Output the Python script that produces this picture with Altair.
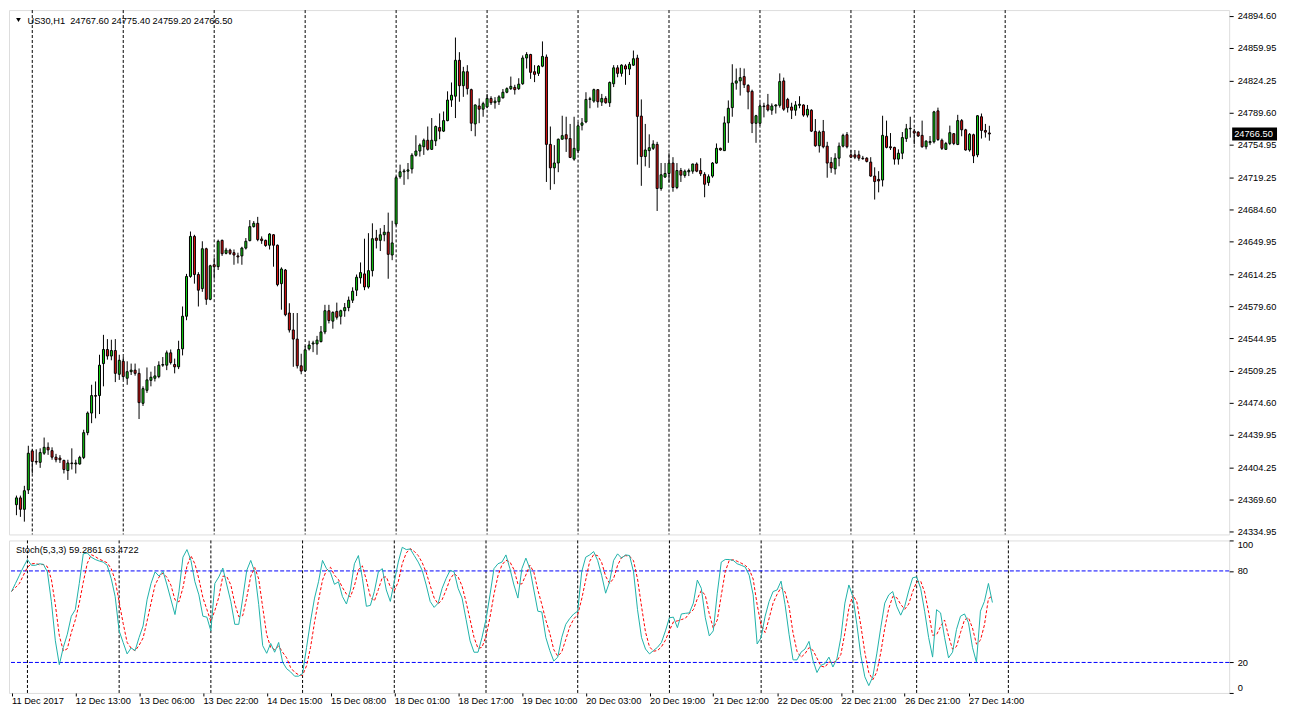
import altair as alt
import pandas as pd

# ---------------- data ----------------
symbol = "US30,H1"
stoch_name = "Stoch(5,3,3)"
stoch_main_last = "59.2861"
stoch_signal_last = "63.4722"

opens = [
    24364.0, 24371.4, 24359.0, 24380.0, 24422.4, 24411.0, 24410.0, 24419.9, 24426.3, 24422.7,
    24415.6, 24414.6, 24412.1, 24401.1, 24409.3, 24408.2, 24408.2, 24415.3, 24442.2, 24463.5,
    24482.5, 24482.5, 24517.2, 24532.5, 24525.4, 24531.4, 24505.6, 24519.7, 24501.3, 24508.4,
    24510.1, 24506.6, 24474.1, 24488.2, 24499.0, 24501.3, 24503.1, 24515.5, 24515.5, 24528.9,
    24516.2, 24513.7, 24533.2, 24568.6, 24611.8, 24655.3, 24613.9, 24598.6, 24641.9, 24587.0,
    24624.5, 24622.4, 24651.0, 24636.9, 24640.4, 24637.6, 24634.1, 24634.1, 24642.6, 24650.7,
    24665.9, 24669.5, 24652.5, 24651.0, 24645.7, 24657.1, 24645.7, 24604.0, 24618.8, 24572.1,
    24553.7, 24543.8, 24514.8, 24509.5, 24533.2, 24538.5, 24538.5, 24541.0, 24551.6, 24574.6,
    24563.3, 24573.9, 24568.6, 24574.6, 24578.0, 24586.0, 24596.9, 24610.3, 24614.6, 24600.4,
    24618.1, 24653.5, 24651.0, 24657.1, 24659.9, 24635.1, 24668.8, 24720.1, 24725.4, 24726.1,
    24728.6, 24743.4, 24748.0, 24752.6, 24759.7, 24749.8, 24759.0, 24773.5, 24769.6, 24781.0,
    24803.3, 24807.5, 24846.5, 24818.9, 24834.1, 24814.6, 24777.4, 24796.9, 24793.4, 24795.9,
    24805.1, 24800.4, 24801.5, 24805.7, 24811.8, 24815.7, 24817.1, 24815.7, 24821.0, 24849.0,
    24852.8, 24834.1, 24832.3, 24840.1, 24850.0, 24755.2, 24729.7, 24735.0, 24760.8, 24765.7,
    24761.5, 24739.2, 24748.4, 24776.0, 24779.6, 24804.0, 24802.2, 24814.6, 24801.1, 24805.1,
    24800.4, 24821.0, 24838.3, 24832.3, 24840.4, 24837.0, 24841.2, 24848.9, 24785.9, 24742.0,
    24748.4, 24750.9, 24755.2, 24707.3, 24719.7, 24723.6, 24734.9, 24708.4, 24726.8, 24721.5,
    24725.4, 24726.1, 24733.9, 24726.8, 24722.6, 24713.7, 24720.8, 24734.9, 24750.9, 24748.4,
    24778.5, 24795.1, 24821.7, 24824.1, 24828.8, 24819.2, 24812.8, 24778.1, 24778.1, 24796.9,
    24798.0, 24792.3, 24796.9, 24797.6, 24824.1, 24804.0, 24795.8, 24792.3, 24797.6, 24798.0,
    24787.0, 24792.3, 24769.3, 24753.7, 24769.3, 24753.3, 24735.6, 24728.6, 24740.2, 24753.3,
    24765.7, 24743.8, 24743.8, 24743.8, 24740.2, 24740.2, 24736.0, 24720.8, 24717.2, 24716.5,
    24764.0, 24752.6, 24751.9, 24739.2, 24745.6, 24761.5, 24772.1, 24769.6, 24768.6, 24765.0,
    24752.6, 24757.0, 24758.0, 24791.6, 24759.7, 24749.8, 24756.2, 24766.8, 24755.1, 24781.0,
    24771.0, 24749.1, 24765.7, 24743.8, 24785.2, 24770.3, 24767.6,
]
highs = [
    24373.9, 24373.9, 24384.5, 24428.0, 24424.1, 24424.1, 24425.2, 24436.9, 24431.6, 24426.3,
    24419.2, 24417.8, 24412.8, 24412.8, 24425.2, 24412.8, 24417.1, 24445.4, 24465.2, 24494.2,
    24497.8, 24526.8, 24548.4, 24543.8, 24543.1, 24543.8, 24526.8, 24524.3, 24519.7, 24517.2,
    24517.2, 24511.9, 24492.5, 24513.0, 24508.4, 24514.4, 24519.7, 24524.3, 24531.4, 24532.5,
    24522.6, 24542.0, 24579.2, 24614.6, 24660.6, 24657.0, 24616.4, 24650.0, 24643.0, 24624.5,
    24632.3, 24651.8, 24651.8, 24642.9, 24641.9, 24641.1, 24637.6, 24644.0, 24653.5, 24673.0,
    24671.9, 24676.5, 24655.3, 24651.8, 24658.8, 24657.8, 24646.5, 24621.7, 24619.9, 24582.7,
    24572.1, 24572.1, 24527.9, 24536.7, 24542.0, 24542.0, 24547.3, 24558.0, 24581.0, 24581.0,
    24573.9, 24583.4, 24575.7, 24583.0, 24590.0, 24600.0, 24613.9, 24627.0, 24652.8, 24658.8,
    24669.5, 24662.4, 24664.2, 24667.7, 24681.1, 24672.3, 24720.8, 24733.2, 24728.6, 24735.0,
    24745.6, 24765.1, 24756.2, 24761.5, 24774.6, 24783.8, 24775.7, 24788.8, 24790.9, 24812.8,
    24822.4, 24871.2, 24855.3, 24839.4, 24841.2, 24815.7, 24798.5, 24805.1, 24801.5, 24810.0,
    24807.5, 24806.5, 24808.6, 24815.3, 24817.1, 24828.8, 24819.9, 24827.0, 24851.8, 24855.3,
    24853.5, 24841.2, 24841.2, 24867.0, 24852.8, 24774.6, 24754.4, 24761.5, 24786.3, 24785.2,
    24777.4, 24785.2, 24779.2, 24783.8, 24811.8, 24806.8, 24815.7, 24815.0, 24810.0, 24807.5,
    24823.5, 24841.2, 24841.2, 24842.2, 24842.2, 24844.7, 24857.1, 24852.5, 24804.0, 24777.4,
    24766.1, 24759.7, 24758.0, 24735.0, 24735.0, 24745.6, 24741.3, 24734.9, 24729.6, 24727.9,
    24728.9, 24734.2, 24735.6, 24740.2, 24725.0, 24722.6, 24736.0, 24756.2, 24751.6, 24785.6,
    24802.9, 24842.2, 24837.6, 24838.3, 24837.6, 24820.6, 24814.6, 24787.3, 24800.4, 24800.4,
    24810.0, 24799.7, 24798.7, 24832.3, 24827.7, 24805.7, 24800.4, 24802.2, 24807.5, 24798.7,
    24798.0, 24793.3, 24782.7, 24770.3, 24781.7, 24758.0, 24741.3, 24745.6, 24757.2, 24766.8,
    24768.6, 24749.1, 24749.1, 24748.4, 24742.7, 24741.3, 24741.3, 24730.3, 24726.1, 24786.3,
    24781.0, 24767.5, 24752.6, 24749.8, 24768.6, 24777.4, 24785.2, 24772.1, 24769.3, 24781.0,
    24759.7, 24764.3, 24791.6, 24795.1, 24761.5, 24757.9, 24775.6, 24767.5, 24787.3, 24782.7,
    24772.1, 24767.5, 24766.8, 24787.0, 24788.7, 24777.4, 24775.4,
]
lows = [
    24352.6, 24350.8, 24345.6, 24375.6, 24397.9, 24407.5, 24404.0, 24418.1, 24418.1, 24412.8,
    24410.0, 24409.3, 24397.9, 24390.9, 24402.2, 24397.9, 24407.5, 24413.5, 24439.4, 24452.5,
    24457.8, 24462.4, 24492.5, 24521.5, 24520.8, 24497.1, 24499.5, 24500.2, 24494.2, 24504.8,
    24504.1, 24457.0, 24471.2, 24485.4, 24492.5, 24497.8, 24501.3, 24513.7, 24510.1, 24516.2,
    24506.6, 24511.2, 24526.1, 24564.3, 24610.4, 24604.0, 24579.2, 24595.1, 24581.0, 24586.0,
    24609.3, 24618.8, 24634.1, 24635.8, 24635.1, 24624.5, 24625.9, 24624.5, 24641.1, 24650.0,
    24664.9, 24650.0, 24647.2, 24644.0, 24641.1, 24622.4, 24601.1, 24575.7, 24568.6, 24550.9,
    24513.7, 24511.9, 24505.6, 24508.0, 24531.4, 24529.6, 24526.8, 24540.3, 24549.1, 24560.8,
    24555.1, 24565.0, 24559.7, 24568.0, 24574.0, 24583.0, 24590.5, 24604.0, 24596.9, 24598.6,
    24611.8, 24642.2, 24639.4, 24650.0, 24609.3, 24629.5, 24667.0, 24718.0, 24711.3, 24717.3,
    24723.6, 24742.0, 24742.0, 24743.8, 24748.4, 24749.1, 24753.4, 24760.8, 24768.6, 24780.3,
    24795.9, 24783.8, 24801.5, 24806.8, 24809.3, 24769.6, 24764.0, 24778.2, 24785.2, 24794.4,
    24798.0, 24794.0, 24798.0, 24805.1, 24810.7, 24814.3, 24809.3, 24814.3, 24819.9, 24837.6,
    24826.3, 24822.8, 24829.5, 24839.0, 24714.4, 24705.9, 24712.0, 24725.0, 24760.4, 24747.0,
    24740.3, 24737.4, 24745.6, 24770.4, 24778.2, 24794.4, 24800.4, 24795.1, 24796.9, 24799.4,
    24795.9, 24817.4, 24828.1, 24828.8, 24819.9, 24830.5, 24840.4, 24733.2, 24710.2, 24731.4,
    24729.7, 24749.1, 24682.9, 24704.9, 24719.0, 24713.7, 24703.8, 24706.6, 24714.4, 24719.0,
    24720.8, 24723.3, 24725.0, 24720.8, 24697.8, 24710.2, 24719.0, 24734.2, 24748.4, 24748.0,
    24756.9, 24785.2, 24814.6, 24808.2, 24816.4, 24793.3, 24767.5, 24756.9, 24775.6, 24784.5,
    24790.9, 24787.3, 24788.7, 24795.1, 24791.6, 24789.8, 24782.7, 24786.3, 24794.4, 24785.2,
    24784.5, 24768.6, 24752.6, 24746.3, 24750.9, 24719.0, 24724.3, 24722.5, 24731.4, 24751.9,
    24750.9, 24740.2, 24739.2, 24737.4, 24738.5, 24735.6, 24720.1, 24695.3, 24703.1, 24709.5,
    24750.9, 24749.1, 24733.2, 24733.2, 24739.2, 24757.9, 24762.6, 24755.5, 24763.3, 24751.6,
    24749.8, 24754.4, 24756.2, 24759.0, 24749.1, 24749.1, 24754.4, 24754.4, 24754.4, 24764.0,
    24748.4, 24747.3, 24734.9, 24741.3, 24761.5, 24762.6, 24759.2,
]
closes = [
    24371.4, 24359.0, 24379.2, 24419.9, 24411.0, 24410.3, 24420.6, 24426.3, 24423.5, 24415.6,
    24412.8, 24412.8, 24402.2, 24409.3, 24408.6, 24409.3, 24415.3, 24442.2, 24463.5, 24482.5,
    24481.8, 24515.5, 24532.5, 24525.4, 24531.4, 24506.6, 24520.8, 24503.1, 24508.4, 24510.1,
    24506.6, 24474.8, 24490.0, 24499.5, 24502.4, 24503.8, 24515.5, 24516.2, 24528.9, 24518.3,
    24513.7, 24532.5, 24568.6, 24611.8, 24655.3, 24613.9, 24596.9, 24641.9, 24587.0, 24623.4,
    24622.4, 24650.0, 24636.5, 24640.4, 24636.9, 24635.1, 24633.0, 24642.6, 24650.0, 24665.9,
    24669.5, 24651.8, 24650.7, 24645.4, 24657.8, 24645.7, 24602.9, 24619.9, 24570.3, 24553.7,
    24543.8, 24514.8, 24509.1, 24532.1, 24537.4, 24539.6, 24542.7, 24551.6, 24574.6, 24564.0,
    24572.8, 24567.5, 24574.6, 24578.0, 24586.0, 24595.8, 24611.0, 24616.0, 24600.4, 24618.1,
    24652.8, 24651.0, 24657.1, 24659.9, 24635.8, 24648.2, 24719.0, 24725.4, 24726.4, 24727.5,
    24743.4, 24748.0, 24754.4, 24759.7, 24749.8, 24759.7, 24774.6, 24769.6, 24781.0, 24803.3,
    24808.6, 24846.5, 24818.9, 24834.1, 24815.7, 24778.2, 24798.0, 24793.4, 24799.4, 24805.1,
    24800.4, 24802.2, 24806.8, 24811.8, 24815.7, 24818.2, 24814.6, 24820.6, 24849.0, 24852.8,
    24833.4, 24831.2, 24840.1, 24850.7, 24755.2, 24729.7, 24735.0, 24760.8, 24764.7, 24761.1,
    24741.0, 24750.9, 24775.3, 24778.5, 24804.0, 24804.7, 24814.6, 24801.5, 24805.1, 24800.4,
    24822.4, 24838.3, 24832.3, 24841.2, 24837.0, 24842.2, 24848.2, 24785.6, 24742.0, 24749.1,
    24751.6, 24755.5, 24707.3, 24722.2, 24723.6, 24734.9, 24708.4, 24726.8, 24721.8, 24726.1,
    24726.8, 24733.9, 24726.1, 24723.3, 24711.9, 24720.1, 24734.9, 24750.9, 24749.1, 24778.5,
    24794.4, 24821.7, 24824.1, 24827.7, 24819.9, 24812.1, 24778.1, 24786.3, 24796.9, 24796.2,
    24792.6, 24796.9, 24798.0, 24823.4, 24793.4, 24795.1, 24792.3, 24798.0, 24798.7, 24787.0,
    24793.3, 24769.6, 24753.7, 24768.6, 24752.6, 24734.9, 24729.6, 24740.2, 24753.3, 24765.0,
    24752.6, 24741.3, 24741.3, 24740.2, 24739.6, 24736.7, 24720.8, 24714.8, 24715.5, 24765.0,
    24751.9, 24751.5, 24739.2, 24745.6, 24762.6, 24772.1, 24772.6, 24767.5, 24764.3, 24752.6,
    24758.7, 24758.3, 24790.5, 24760.4, 24750.9, 24756.2, 24767.9, 24756.2, 24781.0, 24771.0,
    24749.1, 24766.1, 24742.7, 24786.3, 24770.3, 24768.5, 24766.5,
]
# Stochastic main line (%K) read per bar
stoch_k = [
    66.5, 71.8, 77.2, 82.6, 87.5, 83.7, 83.7, 84.7, 84.3, 79.4,
    60.0, 34.2, 18.5, 29.9, 38.5, 50.3, 54.6, 71.8, 91.2, 91.8,
    89.0, 87.5, 86.5, 85.8, 83.7, 75.1, 63.2, 40.7, 33.1, 25.6,
    29.5, 27.8, 36.4, 43.9, 61.1, 71.8, 79.4, 76.6, 79.8, 70.8,
    61.1, 51.4, 66.5, 89.0, 94.0, 86.9, 72.9, 64.3, 50.3, 49.7,
    40.7, 71.8, 76.1, 81.9, 70.8, 60.0, 45.0, 45.0, 62.2, 80.4,
    86.9, 79.4, 57.9, 31.0, 26.0, 32.5, 26.7, 33.1, 20.2, 15.9,
    13.8, 11.0, 11.0, 12.7, 29.9, 47.1, 62.2, 72.9, 86.9, 81.5,
    78.9, 71.2, 72.9, 63.2, 58.3, 67.5, 84.7, 90.1, 75.1, 56.8,
    57.4, 66.5, 79.4, 81.5, 67.5, 60.0, 72.9, 85.8, 95.5, 94.0,
    94.4, 90.1, 85.8, 80.4, 70.8, 60.0, 56.1, 58.9, 68.6, 75.1,
    80.4, 79.4, 68.6, 62.2, 48.2, 34.2, 26.7, 26.7, 36.4, 48.2,
    64.3, 81.5, 84.7, 85.8, 90.5, 81.5, 70.8, 62.2, 81.5, 88.4,
    81.5, 67.5, 53.6, 53.1, 36.4, 27.8, 20.9, 23.5, 36.4, 45.0,
    48.8, 51.8, 53.6, 79.4, 89.0, 90.5, 92.7, 86.9, 77.2, 65.4,
    72.9, 86.9, 91.2, 88.4, 90.5, 90.1, 79.4, 54.6, 36.4, 28.8,
    25.6, 27.8, 29.9, 33.1, 40.7, 49.3, 49.7, 42.8, 51.8, 52.2,
    52.5, 58.9, 74.0, 68.6, 49.3, 37.4, 40.7, 65.4, 85.8, 87.5,
    87.5, 86.9, 84.7, 83.7, 82.6, 77.2, 64.3, 32.1, 36.4, 50.3,
    60.0, 66.5, 67.5, 73.3, 57.9, 38.5, 21.7, 21.7, 26.7, 28.8,
    33.8, 21.3, 13.4, 18.1, 19.2, 23.5, 17.0, 22.4, 36.4, 58.9,
    70.8, 63.2, 45.0, 24.5, 10.6, 4.8, 10.6, 25.6, 42.8, 58.9,
    64.3, 66.5, 56.8, 51.0, 56.8, 66.9, 75.5, 76.1, 68.6, 53.6,
    36.4, 23.5, 54.6, 52.5, 36.4, 23.0, 26.7, 41.7, 50.3, 51.8,
    46.0, 29.9, 20.2, 53.6, 60.0, 71.8, 59.3,
]
separator_bars = [4, 27, 50, 73, 96, 119, 142, 165, 188, 211, 227, 250]
time_label_bars = [0, 16, 32, 48, 64, 80, 96, 112, 128, 144, 160, 176, 192, 208, 224, 240]
time_labels = [
    "11 Dec 2017", "12 Dec 13:00", "13 Dec 06:00", "13 Dec 22:00", "14 Dec 15:00",
    "15 Dec 08:00", "18 Dec 01:00", "18 Dec 17:00", "19 Dec 10:00", "20 Dec 03:00",
    "20 Dec 19:00", "21 Dec 12:00", "22 Dec 05:00", "22 Dec 21:00", "26 Dec 21:00",
    "27 Dec 14:00",
]
price_ticks = [
    24894.60, 24859.95, 24824.25, 24789.60, 24754.95, 24719.25, 24684.60, 24649.95,
    24614.25, 24579.60, 24544.95, 24509.25, 24474.60, 24439.95, 24404.25, 24369.60,
    24334.95,
]
price_domain = [24331.7, 24901.0]
stoch_ticks = [0, 20, 80, 100]
stoch_levels = [20, 80]

# ---------------- layout / style ----------------
W = 1224
H1 = 526
H2 = 153
FONT = "Liberation Sans"
FS = 9.3
BULL = "#11d011"
BEAR = "#e01010"

n = len(closes)
df = pd.DataFrame({
    "bar": list(range(n)),
    "open": opens,
    "high": highs,
    "low": lows,
    "close": closes,
    "k": stoch_k,
})
df["dir"] = ["up" if c >= o else "down" for o, c in zip(opens, closes)]

sep_df = pd.DataFrame({"bar": separator_bars})
lvl_df = pd.DataFrame({"level": stoch_levels})

x_scale = alt.Scale(domain=[-0.625, -0.625 + W / 4], nice=False, zero=False)
y_scale = alt.Scale(domain=price_domain, nice=False, zero=False)
s_scale = alt.Scale(domain=[0, 100], nice=False, zero=False)

y_axis = alt.Axis(
    orient="right", values=price_ticks, format=".2f", domain=False, grid=False,
    ticks=True, tickSize=4, tickColor="black", labelPadding=4, labelFont=FONT,
    labelFontSize=FS, labelColor="black", title=None, labelOverlap=False,
)
s_axis = alt.Axis(
    orient="right", values=stoch_ticks, format="d", domain=False, grid=False,
    ticks=True, tickSize=4, tickColor="black", labelPadding=4, labelFont=FONT,
    labelFontSize=FS, labelColor="black", title=None, labelFlush=True,
    labelOverlap=False,
)
label_expr = (
    "[" + ",".join("'" + t + "'" for t in time_labels) + "]"
    + "[indexof([" + ",".join(str(v) for v in time_label_bars) + "], datum.value)]"
)
x_axis = alt.Axis(
    orient="bottom", values=time_label_bars, labelExpr=label_expr, domain=False,
    grid=False, ticks=True, tickSize=3, tickColor="black", labelAlign="left",
    labelPadding=1, labelFont=FONT, labelFontSize=FS, labelColor="black",
    title=None, labelOverlap=False, labelFlush=False,
)

X_main = alt.X("bar:Q", scale=x_scale, axis=None)
X_st = alt.X("bar:Q", scale=x_scale, axis=x_axis)

# ---------------- price pane ----------------
seps_main = alt.Chart(sep_df).mark_rule(
    color="black", strokeWidth=1, strokeDash=[3, 2]
).encode(x=X_main)

wicks = alt.Chart(df).mark_rule(color="black", strokeWidth=1).encode(
    x=X_main,
    y=alt.Y("low:Q", scale=y_scale, axis=y_axis),
    y2="high:Q",
)
bodies = alt.Chart(df).mark_bar(size=2, stroke="black", strokeWidth=1).encode(
    x=X_main,
    y=alt.Y("open:Q", scale=y_scale, axis=y_axis),
    y2="close:Q",
    color=alt.Color("dir:N", scale=alt.Scale(domain=["up", "down"], range=[BULL, BEAR]), legend=None),
)

last = df.tail(1)
price_box = alt.Chart(last).mark_rule(color="black", strokeWidth=13).encode(
    y=alt.Y("close:Q", scale=y_scale, axis=y_axis),
    x=alt.value(W + 3),
    x2=alt.value(W + 48),
)
price_txt = alt.Chart(last).mark_text(
    color="white", align="left", baseline="middle", font=FONT, fontSize=FS
).encode(
    y=alt.Y("close:Q", scale=y_scale, axis=y_axis),
    x=alt.value(W + 5),
    text=alt.Text("close:Q", format=".2f"),
)

header = (
    f"{symbol}\u00a0 {opens[-1]:.2f} {highs[-1]:.2f} {lows[-1]:.2f} {closes[-1]:.2f}"
)
head_df = pd.DataFrame({"t": [header]})
head_txt = alt.Chart(head_df).mark_text(
    color="black", align="left", baseline="middle", font=FONT, fontSize=FS
).encode(x=alt.value(18.5), y=alt.value(10.5), text="t:N")
head_tri = alt.Chart(head_df).mark_point(
    shape="triangle-down", filled=True, color="black", size=22, opacity=1
).encode(x=alt.value(9.5), y=alt.value(10))

price_pane = alt.layer(
    seps_main, wicks, bodies, price_box, price_txt, head_tri, head_txt
).properties(width=W, height=H1)

# ---------------- stochastic pane ----------------
seps_st = alt.Chart(sep_df).mark_rule(
    color="black", strokeWidth=1, strokeDash=[3, 2]
).encode(x=X_st)
levels = alt.Chart(lvl_df).mark_rule(
    color="#0000ff", strokeWidth=1, strokeDash=[4, 2]
).encode(y=alt.Y("level:Q", scale=s_scale, axis=s_axis))
k_line = alt.Chart(df).mark_line(color="#20b2aa", strokeWidth=1).encode(
    x=X_st, y=alt.Y("k:Q", scale=s_scale, axis=s_axis)
)
d_line = alt.Chart(df).transform_window(
    d="mean(k)", frame=[-2, 0], sort=[{"field": "bar"}]
).mark_line(color="#ff0000", strokeWidth=1, strokeDash=[3, 2]).encode(
    x=X_st, y=alt.Y("d:Q", scale=s_scale, axis=s_axis)
)
st_df = pd.DataFrame({"t": [f"{stoch_name} {stoch_main_last} {stoch_signal_last}"]})
st_txt = alt.Chart(st_df).mark_text(
    color="black", align="left", baseline="middle", font=FONT, fontSize=FS
).encode(x=alt.value(7), y=alt.value(10), text="t:N")

stoch_pane = alt.layer(seps_st, levels, d_line, k_line, st_txt).properties(
    width=W, height=H2
)

chart = alt.vconcat(price_pane, stoch_pane, spacing=2).properties(
    padding={"left": 0, "top": 0, "right": 0, "bottom": 0},
    background="white",
).configure_view(stroke="black", strokeWidth=1).configure(font=FONT)

chart.save("out.html", embed_options={"renderer": "svg", "actions": False})
